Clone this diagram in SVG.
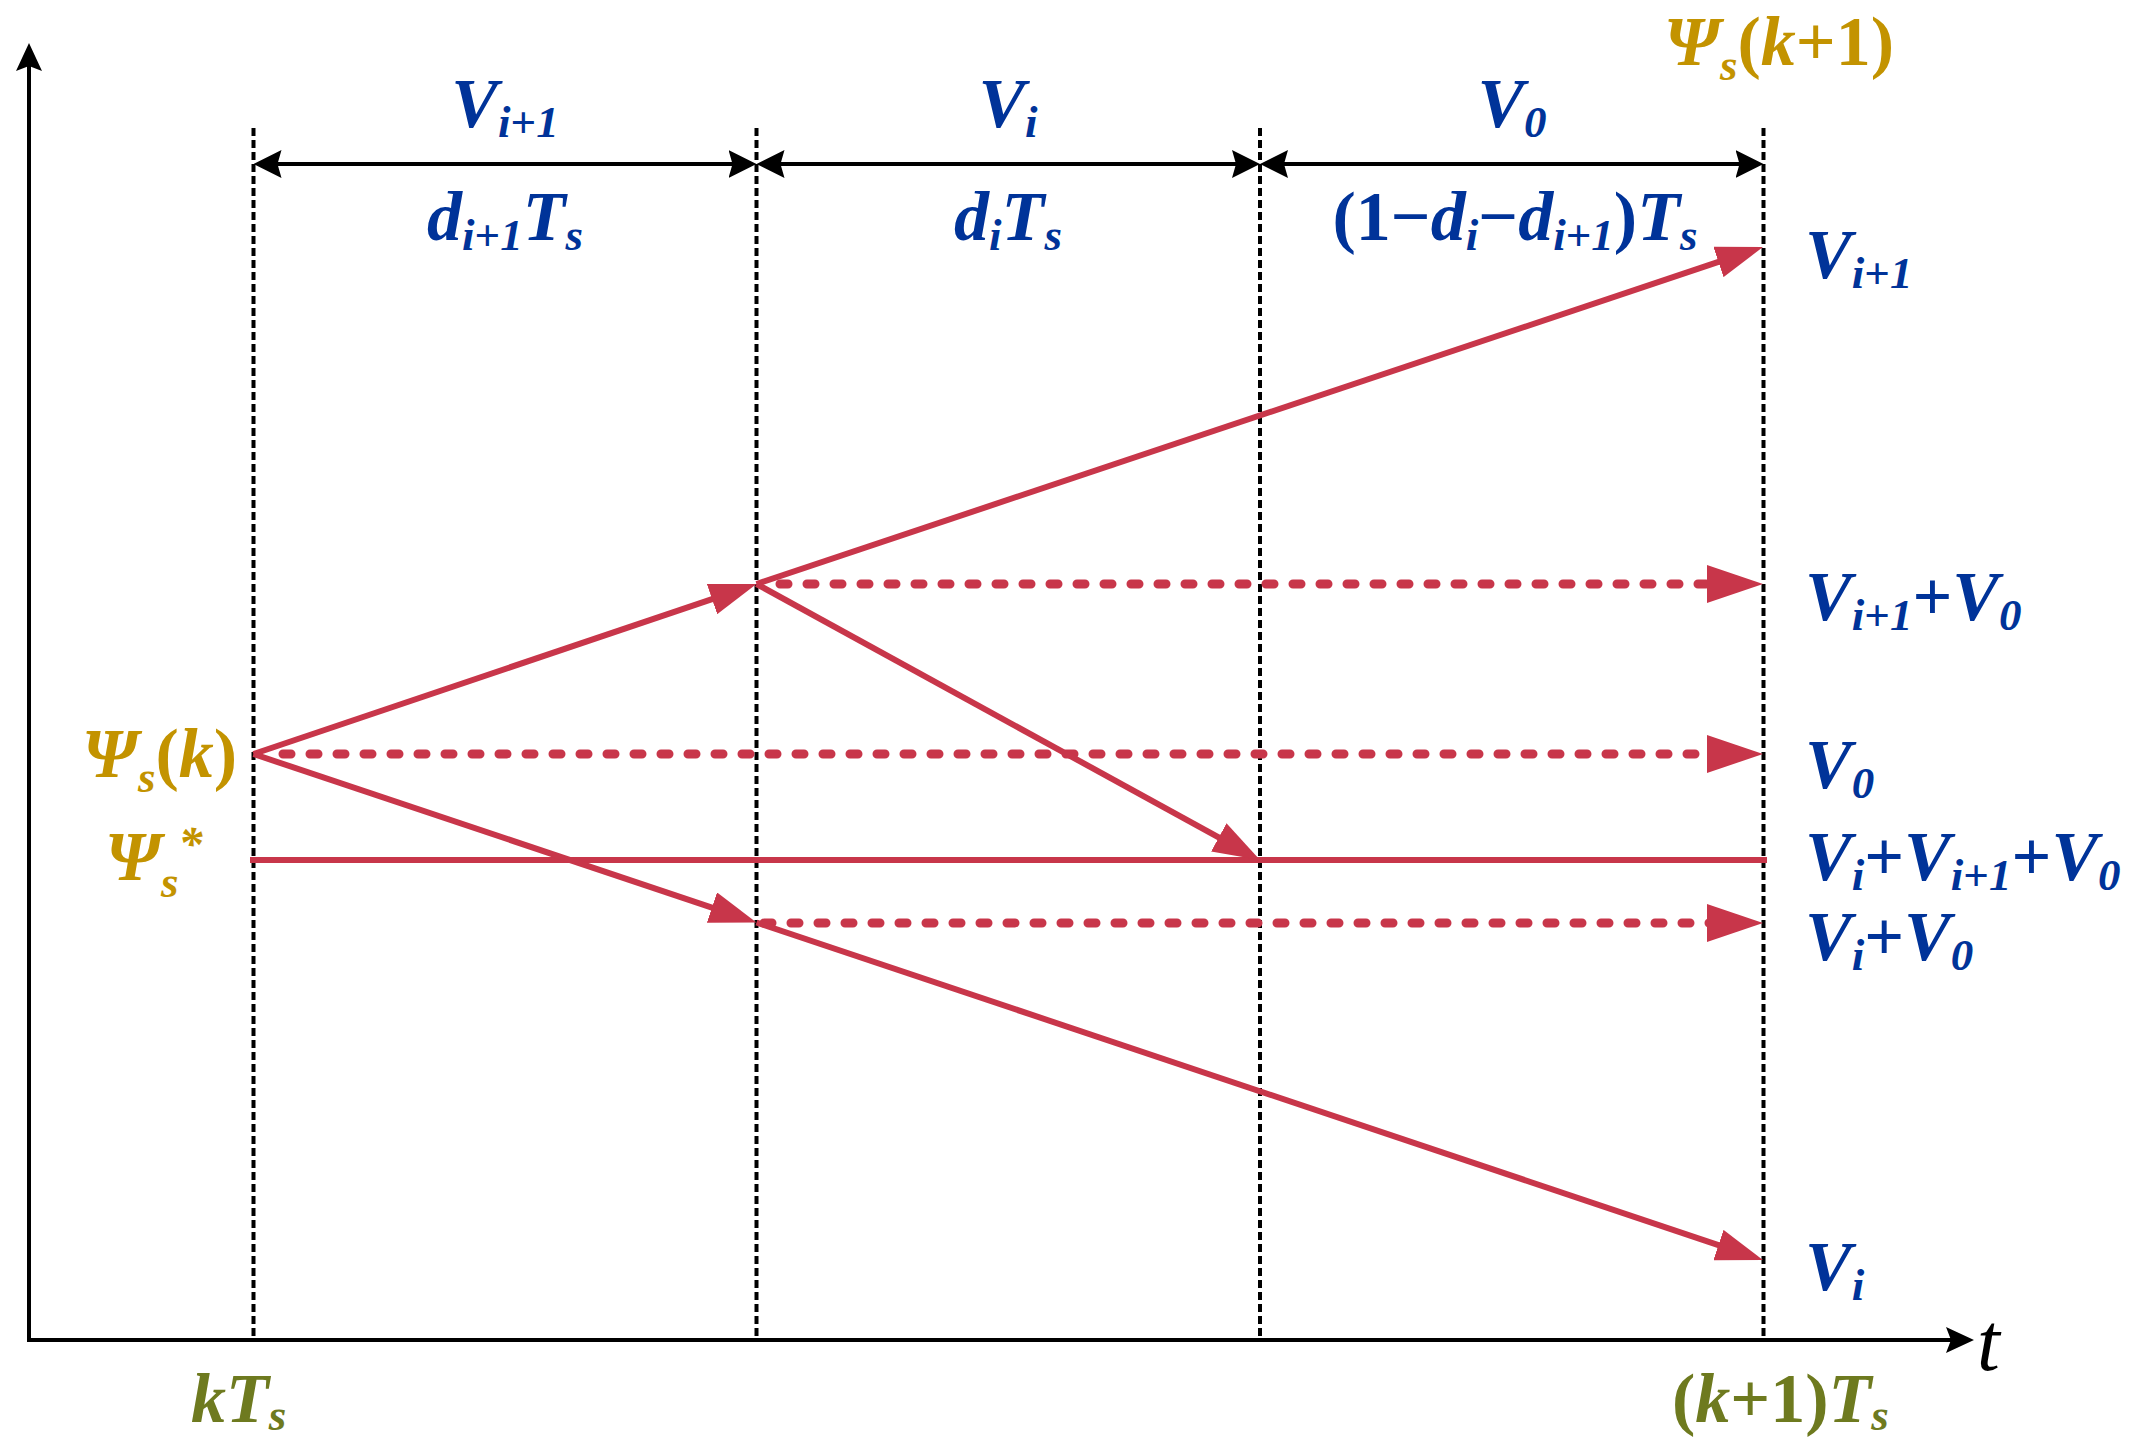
<svg xmlns="http://www.w3.org/2000/svg" width="2135" height="1451" viewBox="0 0 2135 1451">
<style>
.t{font-family:"Liberation Serif","Times New Roman",serif;font-weight:bold;font-style:italic;font-size:70px}
.s{font-size:45px}
.n{font-style:normal}
.blue{fill:#003399}
.gold{fill:#C39300}
.olive{fill:#6E7A1F}
.axis{stroke:#000;stroke-width:4;fill:none}
.grid{stroke:#000;stroke-width:4;stroke-dasharray:8 4;fill:none}
.dim{stroke:#000;stroke-width:4;fill:none}
.red{stroke:#C8364A;stroke-width:6;fill:none}
.dot{stroke:#C8364A;stroke-width:9;stroke-dasharray:8 19;stroke-linecap:round;fill:none}
</style>
<defs>
<marker id="ax" markerUnits="userSpaceOnUse" markerWidth="28" markerHeight="26" refX="8" refY="13" orient="auto"><path d="M0,0 L28,13 L0,26 L5,13 z" fill="#000"/></marker>
<marker id="dm" markerUnits="userSpaceOnUse" markerWidth="28" markerHeight="28" refX="8" refY="14" orient="auto-start-reverse"><path d="M0,0 L28,14 L0,28 L4,14 z" fill="#000"/></marker>
<marker id="rb" markerUnits="userSpaceOnUse" markerWidth="56" markerHeight="38" refX="4" refY="19" orient="auto"><path d="M0,0 L56,19 L0,38 z" fill="#C8364A"/></marker>
<marker id="rs" markerUnits="userSpaceOnUse" markerWidth="47" markerHeight="32" refX="4" refY="16" orient="auto"><path d="M0,0 L47,16 L0,32 z" fill="#C8364A"/></marker>
</defs>
<g id="axes">
<line class="axis" x1="29" y1="1342" x2="29" y2="63" marker-end="url(#ax)"/>
<line class="axis" x1="27" y1="1340" x2="1954" y2="1340" marker-end="url(#ax)"/>
</g>
<g id="gridlines">
<line class="grid" x1="253.5" y1="128" x2="253.5" y2="1342"/>
<line class="grid" x1="756.5" y1="128" x2="756.5" y2="1342"/>
<line class="grid" x1="1260" y1="128" x2="1260" y2="1342"/>
<line class="grid" x1="1763.5" y1="128" x2="1763.5" y2="1342"/>
</g>
<g id="dimensions">
<line class="dim" x1="273.5" y1="164" x2="736.5" y2="164" marker-start="url(#dm)" marker-end="url(#dm)"/>
<line class="dim" x1="776.5" y1="164" x2="1240" y2="164" marker-start="url(#dm)" marker-end="url(#dm)"/>
<line class="dim" x1="1280" y1="164" x2="1743.5" y2="164" marker-start="url(#dm)" marker-end="url(#dm)"/>
</g>
<g id="connectors">
<line class="red" x1="250" y1="860" x2="1767" y2="860"/>
<line class="dot" x1="283" y1="754" x2="1711" y2="754" marker-end="url(#rb)"/>
<line class="dot" x1="780" y1="584" x2="1711" y2="584" marker-end="url(#rb)"/>
<line class="dot" x1="764" y1="923" x2="1711" y2="923" marker-end="url(#rb)"/>
<line class="red" x1="253.5" y1="754" x2="715.8" y2="597.8" marker-end="url(#rs)"/>
<line class="red" x1="756.5" y1="584" x2="1722.2" y2="260.7" marker-end="url(#rs)"/>
<line class="red" x1="756.5" y1="584" x2="1222.3" y2="839.3" marker-end="url(#rs)"/>
<line class="red" x1="253.5" y1="754" x2="715.7" y2="908.8" marker-end="url(#rs)"/>
<line class="red" x1="756.5" y1="922.5" x2="1722.2" y2="1246.3" marker-end="url(#rs)"/>
</g>
<g id="top-labels">
<text class="t blue" x="505" y="127" text-anchor="middle">V<tspan class="s" dy="10">i<tspan class="n">+</tspan>1</tspan></text>
<text class="t blue" x="1008" y="127" text-anchor="middle">V<tspan class="s" dy="10">i</tspan></text>
<text class="t blue" x="1512" y="127" text-anchor="middle">V<tspan class="s" dy="10">0</tspan></text>
<text class="t blue" x="505" y="240" text-anchor="middle">d<tspan class="s" dy="10">i<tspan class="n">+</tspan>1</tspan><tspan dy="-10">T</tspan><tspan class="s" dy="10">s</tspan></text>
<text class="t blue" x="1008" y="240" text-anchor="middle">d<tspan class="s" dy="10">i</tspan><tspan dy="-10">T</tspan><tspan class="s" dy="10">s</tspan></text>
<text class="t blue" x="1515" y="240" text-anchor="middle"><tspan class="n">(1−</tspan>d<tspan class="s" dy="10">i</tspan><tspan class="n" dy="-10">−</tspan>d<tspan class="s" dy="10">i<tspan class="n">+</tspan>1</tspan><tspan class="n" dy="-10">)</tspan>T<tspan class="s" dy="10">s</tspan></text>
</g>
<g id="psi-k1"><text class="t gold" x="1664" y="65">Ψ<tspan class="s" dy="15">s</tspan><tspan class="n" dy="-15">(</tspan>k<tspan class="n">+1)</tspan></text></g>
<g id="psi-k"><text class="t gold" x="82" y="777">Ψ<tspan class="s" dy="15">s</tspan><tspan class="n" dy="-15">(</tspan>k<tspan class="n">)</tspan></text></g>
<g id="psi-ref"><text class="t gold" x="105" y="880">Ψ<tspan class="s" dy="17">s</tspan><tspan style="font-size:48px" dy="-37">*</tspan></text></g>
<g id="right-labels">
<text class="t blue" x="1805" y="278">V<tspan class="s" dy="10">i<tspan class="n">+</tspan>1</tspan></text>
<text class="t blue" x="1805" y="620">V<tspan class="s" dy="10">i<tspan class="n">+</tspan>1</tspan><tspan class="n" dy="-10">+</tspan>V<tspan class="s" dy="10">0</tspan></text>
<text class="t blue" x="1805" y="788">V<tspan class="s" dy="10">0</tspan></text>
<text class="t blue" x="1805" y="880">V<tspan class="s" dy="10">i</tspan><tspan class="n" dy="-10">+</tspan>V<tspan class="s" dy="10">i<tspan class="n">+</tspan>1</tspan><tspan class="n" dy="-10">+</tspan>V<tspan class="s" dy="10">0</tspan></text>
<text class="t blue" x="1805" y="960">V<tspan class="s" dy="10">i</tspan><tspan class="n" dy="-10">+</tspan>V<tspan class="s" dy="10">0</tspan></text>
<text class="t blue" x="1805" y="1290">V<tspan class="s" dy="10">i</tspan></text>
</g>
<g id="time-labels">
<text class="t olive" x="191" y="1422">k<tspan>T</tspan><tspan class="s" dy="8">s</tspan></text>
<text class="t olive" x="1672" y="1422"><tspan class="n">(</tspan>k<tspan class="n">+1)</tspan>T<tspan class="s" dy="8">s</tspan></text>
<text x="1977" y="1370" style="font-family:'Liberation Serif','Times New Roman',serif;font-style:italic;font-size:82px;fill:#000">t</text>
</g>
</svg>
